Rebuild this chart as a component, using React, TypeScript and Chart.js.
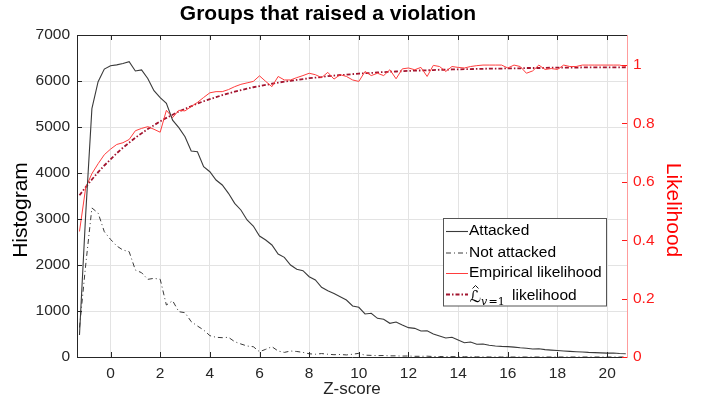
import React, { useEffect, useRef } from "react";
import { Chart, registerables } from "chart.js";

Chart.register(...registerables);

const TITLE = "Groups that raised a violation";
const X_TITLE = "Z-score";
const LEFT_TITLE = "Histogram";
const RIGHT_TITLE = "Likelihood";

const zBins = [
  -1.25, -1, -0.75, -0.5, -0.25,
  0, 0.25, 0.5, 0.75, 1, 1.25, 1.5, 1.75, 2, 2.25, 2.5, 2.75,
  3, 3.25, 3.5, 3.75, 4, 4.25, 4.5, 4.75, 5, 5.25, 5.5, 5.75,
  6, 6.25, 6.5, 6.75, 7, 7.25, 7.5, 7.75, 8, 8.25, 8.5, 8.75,
  9, 9.25, 9.5, 9.75, 10, 10.25, 10.5, 10.75, 11, 11.25, 11.5, 11.75,
  12, 12.25, 12.5, 12.75, 13, 13.25, 13.5, 13.75, 14, 14.25, 14.5, 14.75,
  15, 15.25, 15.5, 15.75, 16, 16.25, 16.5, 16.75, 17, 17.25, 17.5, 17.75,
  18, 18.25, 18.5, 18.75, 19, 19.25, 19.5, 19.75, 20, 20.25, 20.5, 20.75,
];

const attacked = [
  480, 3100, 5400, 5985, 6260,
  6333, 6350, 6380, 6420,
  6217, 6240, 6055, 5790,
  5637, 5515, 5150, 4985,
  4790, 4478, 4463, 4137,
  4028, 3848, 3739, 3558,
  3341, 3196, 2978, 2848,
  2630, 2543, 2435, 2239,
  2167, 2000, 1906, 1876,
  1746, 1674, 1515, 1440,
  1380, 1311, 1239, 1109,
  1080, 935, 950, 841,
  820, 732, 760, 695,
  638, 623, 565, 572,
  500, 456, 413, 428,
  370, 311, 326, 276,
  283, 254, 239, 230,
  225, 215, 200, 190,
  175, 180, 160, 150,
  140, 130, 122, 115,
  108, 100, 95, 90,
  85, 88, 75, 72,
];

const notAttacked = [
  640, 2000, 3240, 3130, 2724,
  2558, 2413, 2326, 2290,
  1891, 1833, 1688, 1710,
  1690, 1130, 1224, 985,
  963, 768, 674, 587,
  464, 428, 420, 428,
  333, 283, 239, 224,
  115, 167, 224, 130,
  100, 130, 120, 100,
  70, 60, 75, 60,
  50, 55, 45, 60,
  80, 40, 35, 30,
  32, 25, 25, 20,
  22, 15, 15, 18,
  10, 10, 8, 8,
  6, 5, 5, 3,
  2, 1, 1, 0,
  0, 0, 0, 0,
  0, 0, 0, 0,
  0, 0, 0, 0,
  0, 0, 0, 0,
  0, 0, 0, 0,
];

const empiricalLikelihood = [
  0.43, 0.58, 0.628, 0.662, 0.693,
  0.712, 0.728, 0.734, 0.745,
  0.775, 0.783, 0.789, 0.78,
  0.77, 0.845, 0.82, 0.845,
  0.843, 0.858, 0.872, 0.889,
  0.905, 0.909, 0.909, 0.916,
  0.926, 0.934, 0.939, 0.944,
  0.963, 0.944, 0.926, 0.961,
  0.949, 0.949, 0.957, 0.964,
  0.972, 0.967, 0.957, 0.975,
  0.952, 0.967, 0.961, 0.949,
  0.944, 0.978, 0.964, 0.972,
  0.964, 0.984, 0.953, 0.987,
  0.99, 0.984, 0.992, 0.961,
  0.999, 0.995, 0.978, 0.995,
  0.992, 0.99, 0.995, 0.998,
  1, 1, 1, 1,
  0.99, 1, 0.995, 0.972,
  0.98, 1, 0.985, 0.988,
  0.985, 1, 0.995, 0.995,
  1, 1, 1, 1,
  1, 1, 1, 0.995,
];

const fittedLikelihood = [
  0.554, 0.582, 0.608, 0.633, 0.656,
  0.677, 0.698, 0.717, 0.734,
  0.751, 0.766, 0.781, 0.794,
  0.807, 0.819, 0.83, 0.841,
  0.85, 0.859, 0.868, 0.876,
  0.883, 0.89, 0.897, 0.903,
  0.909, 0.914, 0.919, 0.924,
  0.928, 0.932, 0.936, 0.94,
  0.943, 0.946, 0.949, 0.952,
  0.955, 0.957, 0.959, 0.962,
  0.964, 0.966, 0.967, 0.969,
  0.971, 0.972, 0.973, 0.975,
  0.976, 0.977, 0.978, 0.979,
  0.98, 0.981, 0.9815, 0.982,
  0.983, 0.984, 0.984, 0.985,
  0.985, 0.986, 0.986, 0.987,
  0.987, 0.988, 0.988, 0.988,
  0.989, 0.989, 0.989, 0.99,
  0.99, 0.99, 0.99, 0.991,
  0.991, 0.991, 0.991, 0.991,
  0.992, 0.992, 0.992, 0.992,
  0.992, 0.992, 0.992, 0.992,
];

const xTicks = [0, 2, 4, 6, 8, 10, 12, 14, 16, 18, 20];
const leftTicks = [0, 1000, 2000, 3000, 4000, 5000, 6000, 7000];
const rightTicks = [0, 0.2, 0.4, 0.6, 0.8, 1];
const rightTickLabels = ["0", "0.2", "0.4", "0.6", "0.8", "1"];
const legendLabels = ["Attacked", "Not attacked", "Empirical likelihood", "likelihood"];

const FONT = "'Liberation Sans', Arial, Helvetica, sans-serif";
const AXIS_COLOR = "#262626";
const GRID_COLOR = "#e3e3e3";
const HIST_COLOR = "#3a3a3a";
const EMP_COLOR = "#ff3d3d";
const FIT_COLOR = "#a2142f";
const RIGHT_AXIS_COLOR = "#ff9c9c";
const RIGHT_TEXT_COLOR = "#ff1a1a";

const NOT_ATTACKED_DASH = [5, 3, 1, 3];
const FIT_DASH = [4, 2, 1.5, 2];

const overlayPlugin = {
  id: "overlay",
  afterDraw(chart: any) {
    const ctx = chart.ctx as CanvasRenderingContext2D;
    const ca = chart.chartArea;
    const xs = chart.scales.x;
    const yl = chart.scales.y;
    const yr = chart.scales.y1;
    ctx.save();

    // top border
    ctx.strokeStyle = AXIS_COLOR;
    ctx.lineWidth = 1;
    ctx.beginPath();
    ctx.moveTo(ca.left, ca.top + 0.5);
    ctx.lineTo(ca.right, ca.top + 0.5);
    ctx.stroke();

    // inward tick marks
    ctx.beginPath();
    xTicks.forEach((v) => {
      const px = Math.round(xs.getPixelForValue(v)) + 0.5;
      ctx.moveTo(px, ca.bottom);
      ctx.lineTo(px, ca.bottom - 5);
      ctx.moveTo(px, ca.top);
      ctx.lineTo(px, ca.top + 5);
    });
    leftTicks.forEach((v) => {
      const py = Math.round(yl.getPixelForValue(v)) + 0.5;
      ctx.moveTo(ca.left, py);
      ctx.lineTo(ca.left + 5, py);
    });
    ctx.stroke();
    ctx.strokeStyle = RIGHT_TEXT_COLOR;
    ctx.beginPath();
    rightTicks.forEach((v) => {
      const py = Math.round(yr.getPixelForValue(v)) + 0.5;
      ctx.moveTo(ca.right, py);
      ctx.lineTo(ca.right - 5, py);
    });
    ctx.stroke();

    // title
    ctx.fillStyle = "#000";
    ctx.font = `bold 21px ${FONT}`;
    ctx.textAlign = "center";
    ctx.textBaseline = "middle";
    ctx.fillText(TITLE, 328, 14);

    // x title
    ctx.fillStyle = AXIS_COLOR;
    ctx.font = `17px ${FONT}`;
    ctx.fillText(X_TITLE, (ca.left + ca.right) / 2, 389);

    // left title
    ctx.save();
    ctx.translate(21, 210);
    ctx.rotate(-Math.PI / 2);
    ctx.fillStyle = "#000";
    ctx.font = `21px ${FONT}`;
    ctx.fillText(LEFT_TITLE, 0, 0);
    ctx.restore();

    // right title
    ctx.save();
    ctx.translate(673, 210);
    ctx.rotate(Math.PI / 2);
    ctx.fillStyle = "#ff0000";
    ctx.font = `21px ${FONT}`;
    ctx.fillText(RIGHT_TITLE, 0, 0);
    ctx.restore();

    // legend
    const bx = 443.5, by = 218.5, bw = 163, bh = 87.5;
    ctx.fillStyle = "#fff";
    ctx.fillRect(bx, by, bw, bh);
    ctx.strokeStyle = "#555";
    ctx.lineWidth = 1;
    ctx.strokeRect(bx, by, bw, bh);
    const rows = [231, 252.5, 273, 294];
    const styles = [
      { color: HIST_COLOR, dash: [] as number[], w: 1.1 },
      { color: HIST_COLOR, dash: NOT_ATTACKED_DASH, w: 1 },
      { color: EMP_COLOR, dash: [] as number[], w: 1 },
      { color: FIT_COLOR, dash: FIT_DASH, w: 1.8 },
    ];
    rows.forEach((ry, i) => {
      const s = styles[i];
      ctx.strokeStyle = s.color;
      ctx.lineWidth = s.w;
      ctx.setLineDash(s.dash);
      ctx.beginPath();
      ctx.moveTo(446, ry + 0.5);
      ctx.lineTo(468, ry + 0.5);
      ctx.stroke();
      ctx.setLineDash([]);
    });
    ctx.fillStyle = "#000";
    ctx.textAlign = "left";
    ctx.textBaseline = "middle";
    ctx.font = `15.5px ${FONT}`;
    for (let i = 0; i < 3; i++) ctx.fillText(legendLabels[i], 469, rows[i]);
    // math label: L-hat with subscript v=1
    ctx.textBaseline = "alphabetic";
    ctx.font = `italic 16px 'DejaVu Serif', 'DejaVu Sans', serif`;
    ctx.fillText("\u2112", 469.5, 301.5);
    ctx.strokeStyle = "#000";
    ctx.lineWidth = 0.9;
    ctx.beginPath();
    ctx.moveTo(472.5, 288.5);
    ctx.lineTo(475.5, 285.5);
    ctx.lineTo(478.5, 288.5);
    ctx.stroke();
    ctx.font = `italic 11px 'DejaVu Serif', serif`;
    ctx.fillText("v", 481, 304.5);
    ctx.font = `11px 'DejaVu Serif', serif`;
    ctx.fillText("=1", 488.5, 304.5);
    ctx.font = `15.5px ${FONT}`;
    ctx.fillText(legendLabels[3], 512, 299.5);

    ctx.restore();
  },
};

export default function App() {
  const ref = useRef<HTMLCanvasElement | null>(null);

  useEffect(() => {
    document.body.style.margin = "0";
    if (!ref.current) return;
    const pts = (vals: number[]) => zBins.map((z, i) => ({ x: z, y: vals[i] }));
    const chart = new Chart(ref.current, {
      type: "line",
      data: {
        datasets: [
          {
            label: legendLabels[0],
            data: pts(attacked),
            yAxisID: "y",
            borderColor: HIST_COLOR,
            borderWidth: 1.1,
            pointRadius: 0,
            tension: 0,
          },
          {
            label: legendLabels[1],
            data: pts(notAttacked),
            yAxisID: "y",
            borderColor: HIST_COLOR,
            borderWidth: 1,
            borderDash: NOT_ATTACKED_DASH,
            pointRadius: 0,
            tension: 0,
          },
          {
            label: legendLabels[2],
            data: pts(empiricalLikelihood),
            yAxisID: "y1",
            borderColor: EMP_COLOR,
            borderWidth: 1,
            pointRadius: 0,
            tension: 0,
          },
          {
            label: "fit",
            data: pts(fittedLikelihood),
            yAxisID: "y1",
            borderColor: FIT_COLOR,
            borderWidth: 1.8,
            borderDash: FIT_DASH,
            pointRadius: 0,
            tension: 0,
          },
        ],
      },
      options: {
        responsive: false,
        animation: false,
        events: [],
        layout: { padding: { top: 35, left: 0, right: 0, bottom: 0 } },
        plugins: {
          legend: { display: false },
          title: { display: false },
          tooltip: { enabled: false },
        },
        scales: {
          x: {
            type: "linear",
            min: -1.35,
            max: 20.8,
            afterFit: (s: any) => {
              s.height = 46;
            },
            afterBuildTicks: (s: any) => {
              s.ticks = xTicks.map((v) => ({ value: v }));
            },
            ticks: {
              color: AXIS_COLOR,
              font: { family: FONT, size: 15.5 },
              padding: 7,
              maxRotation: 0,
              callback: (v: any) => String(v),
            },
            grid: { color: GRID_COLOR, drawTicks: false },
            border: { display: true, color: AXIS_COLOR },
          },
          y: {
            type: "linear",
            position: "left",
            min: 0,
            max: 7000,
            afterFit: (s: any) => {
              s.width = 77;
            },
            afterBuildTicks: (s: any) => {
              s.ticks = leftTicks.map((v) => ({ value: v }));
            },
            ticks: {
              color: AXIS_COLOR,
              font: { family: FONT, size: 15.5 },
              padding: 7,
              callback: (v: any) => String(v),
            },
            grid: { color: GRID_COLOR, drawTicks: false },
            border: { display: true, color: AXIS_COLOR },
          },
          y1: {
            type: "linear",
            position: "right",
            min: 0,
            max: 1.103,
            afterFit: (s: any) => {
              s.width = 75;
            },
            afterBuildTicks: (s: any) => {
              s.ticks = rightTicks.map((v) => ({ value: v }));
            },
            ticks: {
              color: RIGHT_TEXT_COLOR,
              font: { family: FONT, size: 15.5 },
              padding: 6,
              callback: (_v: any, i: number) => rightTickLabels[i],
            },
            grid: { display: false, drawTicks: false },
            border: { display: true, color: RIGHT_AXIS_COLOR },
          },
        },
      },
      plugins: [overlayPlugin],
    });
    return () => chart.destroy();
  }, []);

  return (
    <canvas
      ref={ref}
      width={702}
      height={403}
      style={{ display: "block", width: 702, height: 403 }}
    />
  );
}
